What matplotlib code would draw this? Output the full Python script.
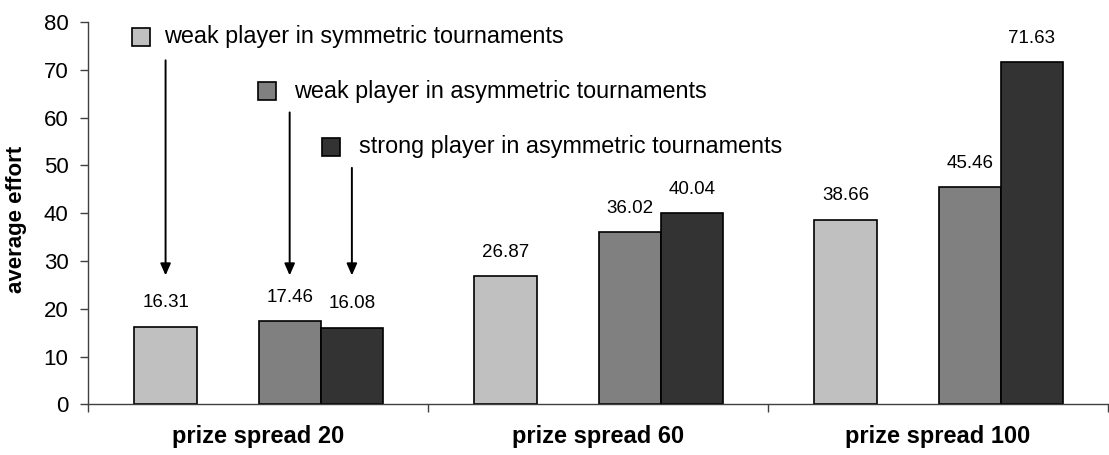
import matplotlib.pyplot as plt
import numpy as np

plt.rcParams['font.family'] = ['Liberation Sans', 'DejaVu Sans']

categories = ['prize spread 20', 'prize spread 60', 'prize spread 100']
series_names = ['weak player in symmetric tournaments',
                'weak player in asymmetric tournaments',
                'strong player in asymmetric tournaments']
weak_sym = [16.31, 26.87, 38.66]
weak_asym = [17.46, 36.02, 45.46]
strong_asym = [16.08, 40.04, 71.63]
y_ticks = [0, 10, 20, 30, 40, 50, 60, 70, 80]

colors = ['#c0c0c0', '#808080', '#333333']
offsets = [-0.272, 0.093, 0.276]   # light bar stands apart, the two asymmetric bars touch
width = 0.183

fig = plt.figure(figsize=(11.09, 4.55), dpi=100)
ax = fig.add_axes([0.0794, 0.111, 0.9197, 0.8405])

x = np.arange(len(categories))
for vals, off, col in zip([weak_sym, weak_asym, strong_asym], offsets, colors):
    bars = ax.bar(x + off, vals, width, color=col, edgecolor='black', linewidth=1.2, zorder=2)
    for b, v in zip(bars, vals):
        ax.annotate(f'{v:.2f}', (b.get_x() + b.get_width() / 2, v),
                    xytext=(0, 24), textcoords='offset pixels',
                    ha='center', va='center', fontsize=13.5)

# legend entries with arrows pointing at the first group of bars
box_x = [-0.344, 0.027, 0.215]
box_y = [76.9, 65.5, 53.9]
text_x = [-0.2765, 0.106, 0.297]
arrow_top = [72.0, 61.1, 49.5]
arrow_end = 27.0
for i in range(3):
    ax.plot(box_x[i], box_y[i], marker='s', ms=13.5, mfc=colors[i], mec='black', mew=1.2, zorder=3)
    ax.text(text_x[i], box_y[i], series_names[i], ha='left', va='center', fontsize=16.8)
    ax.annotate('', xy=(x[0] + offsets[i], arrow_end), xytext=(x[0] + offsets[i], arrow_top[i]),
                arrowprops=dict(arrowstyle='-|>,head_length=0.5,head_width=0.22', color='black',
                                lw=1.4, mutation_scale=14, shrinkA=0, shrinkB=0))

ax.set_xlim(-0.5, 2.5)
ax.set_ylim(0, 80)
ax.set_yticks(y_ticks)
ax.tick_params(axis='y', direction='out', length=6, width=1, pad=8, labelsize=16, color='#404040')

ax.set_xticks([-0.5, 0.5, 1.5, 2.5])
ax.set_xticklabels([])
ax.tick_params(axis='x', which='major', direction='out', length=6, width=1, color='#404040')
ax.set_xticks(x, minor=True)
ax.set_xticklabels(categories, minor=True, fontsize=17, fontweight='bold')
ax.tick_params(axis='x', which='minor', length=0, pad=14.5)

ax.set_ylabel('average effort', fontsize=16, fontweight='bold')
ax.yaxis.set_label_coords(-0.060, 0.484)

for s in ['top', 'right']:
    ax.spines[s].set_visible(False)
for s in ['left', 'bottom']:
    ax.spines[s].set_color('#404040')
    ax.spines[s].set_linewidth(1)

fig.savefig('out.png', dpi=100)
